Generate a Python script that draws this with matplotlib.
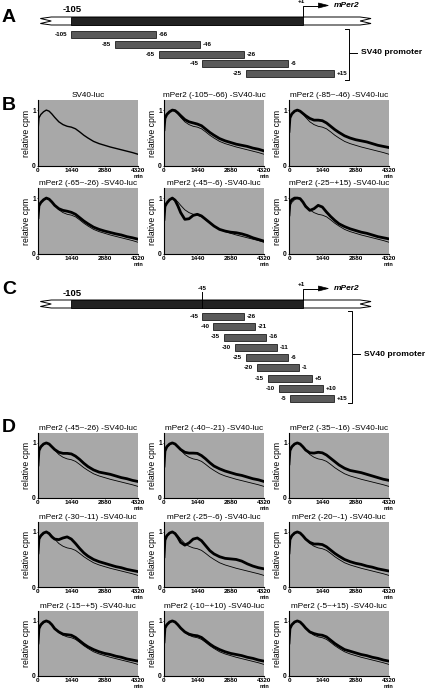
import numpy as np
import matplotlib
matplotlib.use("Agg")
import matplotlib.pyplot as plt
from matplotlib.patches import Rectangle, Polygon

plt.rcParams['font.family'] = ['Liberation Sans', 'DejaVu Sans']
plt.rcParams['font.weight'] = 'bold'

W, H = 432, 691

# ---------------- data ----------------
# time (min)
t = [0, 40, 120, 240, 360, 480, 600, 720, 900, 1080, 1260, 1440, 1620, 1800,
     1980, 2160, 2400, 2640, 2880, 3120, 3360, 3600, 3840, 4080, 4320]

# SV40-luc control (thin line)
sv40 = [0.62, 0.86, 0.92, 0.97, 1.00, 0.98, 0.93, 0.87, 0.79, 0.74, 0.71, 0.695, 0.665, 0.61,
        0.55, 0.50, 0.44, 0.40, 0.37, 0.34, 0.315, 0.29, 0.265, 0.24, 0.21]

# panel A fragments
a_start = [-105, -85, -65, -45, -25]
a_end = [-66, -46, -26, -6, 15]

# panel C fragments
c_start = [-45, -40, -35, -30, -25, -20, -15, -10, -5]
c_end = [-26, -21, -16, -11, -6, -1, 5, 10, 15]

# panel B
b_titles = ["SV40-luc", "mPer2 (-105~-66) -SV40-luc", "mPer2 (-85~-46) -SV40-luc",
            "mPer2 (-65~-26) -SV40-luc", "mPer2 (-45~-6) -SV40-luc", "mPer2 (-25~+15) -SV40-luc"]
b_105 = [0.65, 0.85, 0.92, 0.97, 1.00, 0.99, 0.95, 0.90, 0.83, 0.79, 0.77, 0.75, 0.72, 0.66,
         0.60, 0.55, 0.49, 0.45, 0.42, 0.39, 0.37, 0.35, 0.32, 0.30, 0.27]
b_85 = [0.62, 0.86, 0.93, 0.98, 1.00, 0.98, 0.94, 0.90, 0.85, 0.82, 0.82, 0.81, 0.77, 0.71,
        0.65, 0.60, 0.54, 0.50, 0.47, 0.45, 0.43, 0.40, 0.37, 0.35, 0.33]
b_65 = [0.65, 0.86, 0.92, 0.97, 1.00, 0.98, 0.93, 0.87, 0.81, 0.78, 0.765, 0.745, 0.71, 0.65,
        0.59, 0.54, 0.48, 0.44, 0.41, 0.385, 0.36, 0.34, 0.31, 0.29, 0.265]
b_45 = [0.62, 0.85, 0.91, 0.97, 1.00, 0.96, 0.86, 0.74, 0.62, 0.63, 0.69, 0.71, 0.68, 0.62,
        0.56, 0.50, 0.44, 0.41, 0.39, 0.38, 0.36, 0.33, 0.29, 0.26, 0.23]
b_25 = [0.70, 0.92, 0.97, 1.00, 1.00, 0.99, 0.93, 0.85, 0.78, 0.81, 0.87, 0.84, 0.75, 0.67,
        0.60, 0.54, 0.49, 0.45, 0.42, 0.39, 0.37, 0.34, 0.31, 0.29, 0.27]
b_curves = [None, b_105, b_85, b_65, b_45, b_25]

# panel D
d_titles = ["mPer2 (-45~-26) -SV40-luc", "mPer2 (-40~-21) -SV40-luc", "mPer2 (-35~-16) -SV40-luc",
            "mPer2 (-30~-11) -SV40-luc", "mPer2 (-25~-6) -SV40-luc", "mPer2 (-20~-1) -SV40-luc",
            "mPer2 (-15~+5) -SV40-luc", "mPer2 (-10~+10) -SV40-luc", "mPer2 (-5~+15) -SV40-luc"]
d_45 = [0.60, 0.86, 0.93, 0.98, 1.00, 0.98, 0.93, 0.88, 0.83, 0.81, 0.81, 0.80, 0.76, 0.70,
        0.63, 0.57, 0.51, 0.47, 0.45, 0.43, 0.40, 0.37, 0.35, 0.32, 0.30]
d_40 = [0.58, 0.85, 0.93, 0.98, 1.00, 0.98, 0.93, 0.88, 0.83, 0.815, 0.815, 0.81, 0.77, 0.71,
        0.64, 0.58, 0.53, 0.49, 0.46, 0.43, 0.41, 0.38, 0.35, 0.33, 0.30]
d_35 = [0.62, 0.86, 0.93, 0.98, 1.00, 0.98, 0.93, 0.87, 0.82, 0.815, 0.83, 0.82, 0.78, 0.72,
        0.66, 0.60, 0.54, 0.50, 0.48, 0.46, 0.43, 0.40, 0.37, 0.34, 0.32]
d_30 = [0.62, 0.87, 0.93, 0.98, 1.00, 0.97, 0.91, 0.87, 0.86, 0.89, 0.91, 0.87, 0.79, 0.70,
        0.62, 0.56, 0.50, 0.46, 0.43, 0.40, 0.37, 0.35, 0.32, 0.30, 0.28]
d_25 = [0.55, 0.85, 0.93, 0.98, 1.00, 0.97, 0.90, 0.81, 0.76, 0.80, 0.87, 0.89, 0.84, 0.75,
        0.66, 0.60, 0.55, 0.52, 0.51, 0.50, 0.47, 0.42, 0.38, 0.35, 0.33]
d_20 = [0.62, 0.86, 0.93, 0.98, 1.00, 0.98, 0.93, 0.87, 0.81, 0.78, 0.78, 0.77, 0.73, 0.67,
        0.61, 0.56, 0.50, 0.46, 0.43, 0.41, 0.38, 0.36, 0.33, 0.31, 0.29]
d_15 = [0.60, 0.86, 0.93, 0.98, 1.00, 0.98, 0.93, 0.86, 0.80, 0.76, 0.75, 0.74, 0.70, 0.64,
        0.58, 0.53, 0.48, 0.44, 0.41, 0.39, 0.36, 0.34, 0.31, 0.29, 0.27]
d_10 = [0.62, 0.87, 0.93, 0.98, 1.00, 0.98, 0.93, 0.87, 0.80, 0.76, 0.74, 0.73, 0.70, 0.64,
        0.58, 0.53, 0.48, 0.44, 0.41, 0.39, 0.37, 0.34, 0.32, 0.29, 0.27]
d_5 = [0.60, 0.86, 0.93, 0.98, 1.00, 0.98, 0.93, 0.87, 0.80, 0.77, 0.75, 0.74, 0.71, 0.65,
       0.59, 0.54, 0.48, 0.45, 0.42, 0.39, 0.37, 0.34, 0.32, 0.29, 0.27]
d_curves = [d_45, d_40, d_35, d_30, d_25, d_20, d_15, d_10, d_5]

xticks = [0, 1440, 2880, 4320]

# ---------------- helpers ----------------
fig = plt.figure(figsize=(W / 100, H / 100), dpi=100)

PX = 2.19      # pixels per bp in the maps
X0 = 71        # pixel of -105


def bp_ax(y0, y1):
    ax = fig.add_axes([0, 1 - y1 / H, 1, (y1 - y0) / H])
    ax.set_xlim(-105 - X0 / PX, -105 + (W - X0) / PX)
    ax.set_ylim(y1, y0)
    ax.axis('off')
    return ax


def lab(v):
    return "+%d" % v if v > 0 else "%d" % v


def draw_map(ax, bar_y, starts, ends, row0, dy, brk, mark45=False):
    h = 8
    L, R = -117, 30
    top, bot = bar_y - h / 2, bar_y + h / 2
    # white region with broken ends
    outline = [(L + 3, top), (R - 3, top), (R + 2, top + 1.5), (R - 3, bar_y), (R + 2, bot - 1.5),
               (R - 3, bot), (L + 3, bot), (L - 2, bot - 1.5), (L + 3, bar_y), (L - 2, top + 1.5)]
    ax.add_patch(Polygon(outline, closed=True, fc='white', ec='black', lw=0.7))
    ax.add_patch(Rectangle((-105, top), 106, h, fc='#222222', ec='black', lw=0.6))
    ax.text(-104.5, top - 2.5, "-105", fontsize=6.8, ha='center', va='bottom')
    # transcription start
    ax.plot([1, 1, 9], [top, top - 11.5, top - 11.5], c='black', lw=0.7)
    ax.add_patch(Polygon([(8, top - 14), (8, top - 9), (12.5, top - 11.5)], closed=True,
                         fc='black', ec='black', lw=0.5))
    ax.text(0, top - 13, "+1", fontsize=4.5, ha='center', va='bottom')
    ax.text(15, top - 11.5, "mPer2", fontsize=6, style='italic', ha='left', va='center')
    if mark45:
        ax.plot([-45, -45], [top - 8, bot], c='black', lw=0.7)
        ax.text(-45, top - 9.5, "-45", fontsize=4.5, ha='center', va='bottom')
    for i, (s, e) in enumerate(zip(starts, ends)):
        yc = row0 + dy * i
        ax.add_patch(Rectangle((s, yc - 3.5), e - s, 7, fc='#5a5a5a', ec='black', lw=0.5))
        ax.text(s - 1.8, yc, lab(s), fontsize=4.5, ha='right', va='center')
        ax.text(e + 1.2, yc, lab(e), fontsize=4.5, ha='left', va='center')
    # bracket
    bx = brk[0]
    ax.plot([bx - 2, bx, bx, bx - 2], [brk[1], brk[1], brk[2], brk[2]], c='black', lw=0.7)
    ym = brk[3]
    ax.plot([bx, bx + 3.5], [ym, ym], c='black', lw=0.7)
    ax.text(bx + 5.5, ym, "SV40 promoter", fontsize=6.1, ha='left', va='center')


def panel(x, y_top, w, h, title, thick):
    ax = fig.add_axes([x / W, 1 - (y_top + h) / H, w / W, h / H])
    ax.set_facecolor('#a8a8a8')
    for s in ['top', 'right']:
        ax.spines[s].set_visible(False)
    for s in ['left', 'bottom']:
        ax.spines[s].set_linewidth(0.8)
    if thick is None:
        ax.plot(t, sv40, c='black', lw=1.0)
    else:
        ax.plot(t, sv40, c='black', lw=0.6)
        ax.plot(t, thick, c='black', lw=2.0)
    ax.set_xlim(0, 4320)
    ax.set_ylim(0, 1.18)
    ax.set_xticks(xticks)
    ax.set_xticklabels(["0", "1440", "2880", "4320"], fontsize=4.6)
    ax.set_yticks([0, 1])
    ax.set_yticklabels(["0", "1"], fontsize=4.8)
    ax.tick_params(length=0.8, width=0.5, pad=0.8)
    ax.text(1, -8.0 / h, "min", transform=ax.transAxes, fontsize=4.0, ha='center', va='top')
    ax.set_ylabel("relative cpm", fontsize=6.2, labelpad=1)
    ax.set_title(title, fontsize=5.9, pad=2.2)
    return ax


# ---------------- panel A ----------------
axA = bp_ax(0, 88)
draw_map(axA, 21, a_start, a_end, 34.5, 9.8, (22, 29, 80, 53))

# ---------------- panel B ----------------
cols = [38, 164, 289]
rowsB = [100, 188]
for k in range(6):
    panel(cols[k % 3], rowsB[k // 3], 100, 66, b_titles[k], b_curves[k])

# ---------------- panel C ----------------
axC = bp_ax(270, 410)
draw_map(axC, 304, c_start, c_end, 316.5, 10.25, (23.5, 311, 403, 354), mark45=True)

# ---------------- panel D ----------------
rowsD = [433, 522, 611]
for k in range(9):
    panel(cols[k % 3], rowsD[k // 3], 100, 65, d_titles[k], d_curves[k])

for letter, yy in [("A", 18), ("B", 106), ("C", 290), ("D", 428)]:
    fig.text(2 / W, 1 - yy / H, letter, fontsize=14, ha='left', va='center')

plt.savefig("out.png", dpi=100)
